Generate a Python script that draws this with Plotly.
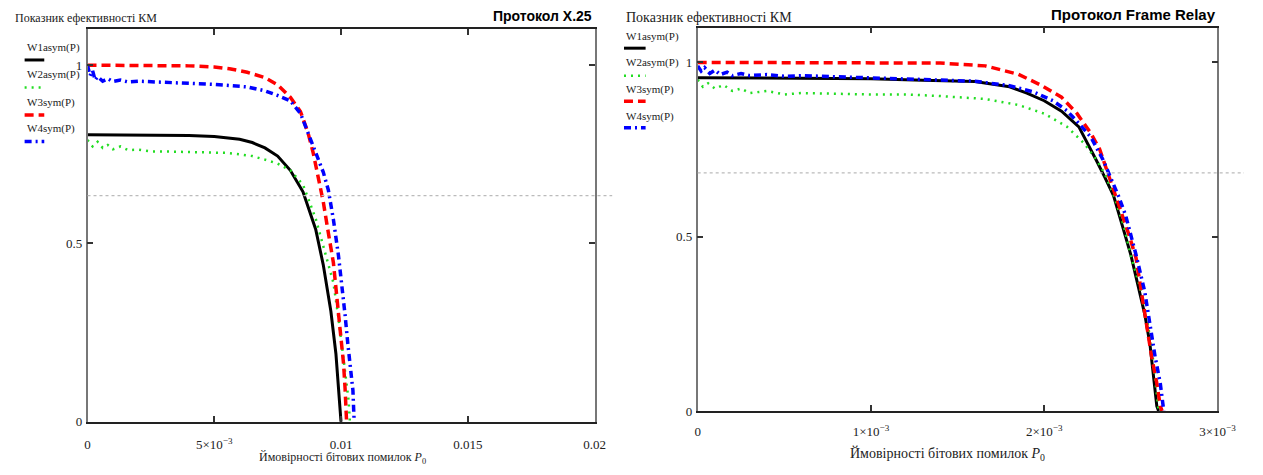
import plotly.graph_objects as go

# ---------------- DATA ----------------
# Protocol X.25 (left panel)
x25_w1_p = [0, 0.001, 0.002, 0.003, 0.004, 0.005, 0.0055, 0.006, 0.0065, 0.007, 0.0075, 0.008, 0.0085,
            0.009, 0.0093, 0.0096, 0.0098, 0.0100]
x25_w1 = [0.805, 0.805, 0.805, 0.804, 0.803, 0.800, 0.797, 0.792, 0.783, 0.768, 0.745, 0.705, 0.645,
          0.54, 0.44, 0.31, 0.19, 0.0]
x25_w2_p = [0, 0.0002, 0.0004, 0.0006, 0.0008, 0.001, 0.0013, 0.0016, 0.002, 0.0025, 0.003, 0.004, 0.005,
            0.0055, 0.006, 0.0065, 0.007, 0.0075, 0.008, 0.0085, 0.009, 0.0094, 0.0097, 0.0099, 0.0101,
            0.0103, 0.01035]
x25_w2 = [0.79, 0.772, 0.785, 0.768, 0.776, 0.764, 0.772, 0.762, 0.763, 0.758, 0.758, 0.757, 0.756,
          0.754, 0.75, 0.745, 0.735, 0.724, 0.705, 0.665, 0.57, 0.47, 0.39, 0.29, 0.17, 0.06, 0.0]
x25_w3_p = [0, 0.001, 0.002, 0.003, 0.004, 0.005, 0.0056, 0.0063, 0.007, 0.0075, 0.008, 0.0084, 0.0087,
            0.0089, 0.0091, 0.0093, 0.0095, 0.0097, 0.0098, 0.0099, 0.0100, 0.0101, 0.01016, 0.0102, 0.01022]
x25_w3 = [1.0, 1.0, 1.0, 0.999, 0.998, 0.995, 0.99, 0.98, 0.965, 0.945, 0.91, 0.87, 0.81,
          0.755, 0.686, 0.617, 0.53, 0.446, 0.375, 0.309, 0.231, 0.163, 0.094, 0.033, 0.0]
x25_w4_p = [0, 0.0001, 0.0002, 0.0003, 0.0004, 0.0006, 0.0008, 0.001, 0.0013, 0.0016, 0.002, 0.003, 0.004,
            0.005, 0.0063, 0.007, 0.0075, 0.008, 0.0084, 0.0086, 0.0088, 0.009, 0.0093, 0.0095, 0.0097,
            0.0099, 0.01004, 0.01016, 0.01027, 0.01039, 0.01047, 0.0105, 0.01052]
x25_w4 = [1.0, 0.97, 0.985, 0.958, 0.968, 0.955, 0.962, 0.954, 0.958, 0.953, 0.955, 0.952, 0.95,
          0.946, 0.939, 0.928, 0.915, 0.90, 0.865, 0.829, 0.795, 0.755, 0.70, 0.65, 0.567,
          0.466, 0.383, 0.30, 0.218, 0.143, 0.088, 0.033, 0.0]

# Protocol Frame Relay (right panel)
fr_w1_p = [0, 0.0005, 0.001, 0.0013, 0.0016, 0.0018, 0.0019, 0.002, 0.0021, 0.0022, 0.00226, 0.0023,
           0.00235, 0.0024, 0.00245, 0.0025, 0.00254, 0.00258, 0.00261, 0.00263, 0.00265, 0.00266]
fr_w1 = [0.956, 0.955, 0.953, 0.949, 0.945, 0.93, 0.912, 0.89, 0.86, 0.815, 0.76, 0.72,
         0.67, 0.618, 0.533, 0.448, 0.363, 0.278, 0.193, 0.108, 0.014, 0.0]
fr_w2_p = [0, 0.00003, 0.00006, 0.0001, 0.00015, 0.0002, 0.00025, 0.0003, 0.0004, 0.0005, 0.0006, 0.0008,
           0.001, 0.0012, 0.00138, 0.00166, 0.00185, 0.002, 0.00213, 0.00223, 0.0023, 0.00235, 0.0024,
           0.00246, 0.0025, 0.00255, 0.00259, 0.00262, 0.00264, 0.00266]
fr_w2 = [0.95, 0.93, 0.94, 0.925, 0.935, 0.918, 0.925, 0.912, 0.918, 0.908, 0.912, 0.909,
         0.908, 0.908, 0.904, 0.895, 0.878, 0.853, 0.816, 0.768, 0.722, 0.68, 0.62,
         0.53, 0.445, 0.36, 0.27, 0.185, 0.10, 0.0]
fr_w3_p = [0, 0.001, 0.0014, 0.00166, 0.00185, 0.00198, 0.0021, 0.00219, 0.00227, 0.00232, 0.00236,
           0.00239, 0.00245, 0.00249, 0.00253, 0.00256, 0.0026, 0.00262, 0.00265, 0.00267, 0.00268]
fr_w3 = [1.0, 1.0, 0.998, 0.99, 0.966, 0.935, 0.90, 0.853, 0.796, 0.751, 0.694,
         0.654, 0.561, 0.504, 0.439, 0.343, 0.229, 0.156, 0.079, 0.014, 0.0]
fr_w4_p = [0, 0.00002, 0.00004, 0.00007, 0.0001, 0.00013, 0.00017, 0.0002, 0.00025, 0.0003, 0.0004,
           0.0005, 0.0006, 0.0008, 0.001, 0.0013, 0.0016, 0.0018, 0.00194, 0.00205, 0.00213, 0.0022,
           0.00227, 0.00234, 0.00238, 0.00243, 0.00247, 0.00253, 0.00258, 0.00261, 0.00264, 0.00267, 0.00269]
fr_w4 = [0.99, 0.975, 0.985, 0.968, 0.978, 0.965, 0.972, 0.962, 0.968, 0.962, 0.965,
         0.96, 0.962, 0.959, 0.957, 0.952, 0.946, 0.933, 0.915, 0.89, 0.862, 0.825,
         0.785, 0.72, 0.675, 0.615, 0.561, 0.448, 0.343, 0.241, 0.156, 0.079, 0.0]

series_names = ["W1asym(P)", "W2asym(P)", "W3sym(P)", "W4sym(P)"]
x25_xticks = [0, 0.005, 0.01, 0.015, 0.02]
x25_xticktext = ["0", "5×10<sup>−3</sup>", "0.01", "0.015", "0.02"]
fr_xticks = [0, 0.001, 0.002, 0.003]
fr_xticktext = ["0", "1×10<sup>−3</sup>", "2×10<sup>−3</sup>", "3×10<sup>−3</sup>"]
yticks = [0, 0.5, 1]
yticktext = ["0", "0.5", "1"]
x25_marker_level = 0.634
fr_marker_level = 0.683
y_title = "Показник ефективності КМ"
x_title = "Ймовірності бітових помилок <i>P</i><sub>0</sub>"
titles = ["Протокол X.25", "Протокол Frame Relay"]

# ---------------- STYLE ----------------
W, H = 1263, 475
SERIF = "Liberation Serif"
SANS = "Liberation Sans"
TXT = "#222222"
styles = [
    dict(color="black", width=3, dash="solid"),
    dict(color="#22dd22", width=2.5, dash="2px,5px"),
    dict(color="#ff0000", width=3.5, dash="9px,5px"),
    dict(color="#0000ff", width=3.5, dash="7px,4px,2px,4px"),
]

def fx(p):
    return p / W

def fy(p):
    return 1 - p / H

fig = go.Figure()
left_data = [(x25_w1_p, x25_w1), (x25_w2_p, x25_w2), (x25_w3_p, x25_w3), (x25_w4_p, x25_w4)]
right_data = [(fr_w1_p, fr_w1), (fr_w2_p, fr_w2), (fr_w3_p, fr_w3), (fr_w4_p, fr_w4)]
for i, (xs, ys) in enumerate(left_data):
    fig.add_trace(go.Scatter(x=xs, y=ys, mode="lines", name=series_names[i], line=styles[i],
                             xaxis="x", yaxis="y", showlegend=False))
for i, (xs, ys) in enumerate(right_data):
    fig.add_trace(go.Scatter(x=xs, y=ys, mode="lines", name=series_names[i], line=styles[i],
                             xaxis="x2", yaxis="y2", showlegend=False))

def axis_common(line_color):
    return dict(
        showgrid=False, zeroline=False, showline=True, linecolor=line_color, linewidth=1.5,
        mirror="ticks", ticks="inside", ticklen=6, tickcolor="#333333", tickwidth=1.5,
        tickfont=dict(family=SERIF, size=13, color=TXT),
    )

fig.update_layout(
    width=W, height=H, margin=dict(l=0, r=0, t=0, b=0),
    paper_bgcolor="white", plot_bgcolor="white",
    xaxis=dict(domain=[fx(86), fx(602)], range=[0, 0.02], tickvals=x25_xticks, ticktext=x25_xticktext,
               anchor="y", ticklabelstandoff=10, **axis_common("#222222")),
    yaxis=dict(domain=[fy(429), fy(30)], range=[0, 1.1], tickvals=yticks, ticktext=yticktext,
               anchor="x", ticklabelstandoff=1, **axis_common("#777777")),
    xaxis2=dict(domain=[fx(707), fx(1236)], range=[0, 0.003], tickvals=fr_xticks, ticktext=fr_xticktext,
                anchor="y2", ticklabelstandoff=8, **axis_common("#222222")),
    yaxis2=dict(domain=[fy(418), fy(28)], range=[0, 1.1], tickvals=yticks, ticktext=yticktext,
                anchor="x2", ticklabelstandoff=1, **axis_common("#777777")),
)

shapes = []
shapes.append(dict(type="line", xref="paper", yref="y", x0=fx(86), x1=fx(620),
                   y0=x25_marker_level, y1=x25_marker_level,
                   line=dict(color="#bbbbbb", width=1.2, dash="3px,3px")))
shapes.append(dict(type="line", xref="paper", yref="y2", x0=fx(707), x1=1.0,
                   y0=fr_marker_level, y1=fr_marker_level,
                   line=dict(color="#bbbbbb", width=1.2, dash="3px,3px")))

annotations = []
leg_left = dict(x=22, text_y=[48, 76, 104, 131], samp_y=[61, 89, 117, 144], samp_w=20)
leg_right = dict(x=632, text_y=[37, 64, 91, 118], samp_y=[49, 77, 103, 130], samp_w=22)
for leg in (leg_left, leg_right):
    for i in range(4):
        annotations.append(dict(xref="paper", yref="paper", x=fx(leg["x"]), y=fy(leg["text_y"][i]),
                                xanchor="left", yanchor="middle", showarrow=False,
                                text=series_names[i], font=dict(family=SERIF, size=11, color=TXT)))
        shapes.append(dict(type="line", xref="paper", yref="paper",
                           x0=fx(leg["x"]), x1=fx(leg["x"] + leg["samp_w"]),
                           y0=fy(leg["samp_y"][i]), y1=fy(leg["samp_y"][i]), line=styles[i]))

annotations.append(dict(xref="paper", yref="paper", x=fx(10), y=fy(18), xanchor="left", yanchor="middle",
                        showarrow=False, text=y_title, font=dict(family=SERIF, size=12, color=TXT)))
annotations.append(dict(xref="paper", yref="paper", x=fx(632), y=fy(18), xanchor="left", yanchor="middle",
                        showarrow=False, text=y_title, font=dict(family=SERIF, size=14, color=TXT)))
annotations.append(dict(xref="paper", yref="paper", x=fx(601), y=fy(16), xanchor="right", yanchor="middle",
                        showarrow=False, text="<b>" + titles[0] + "</b>",
                        font=dict(family=SANS, size=14, color="black")))
annotations.append(dict(xref="paper", yref="paper", x=fx(1237), y=fy(15), xanchor="right", yanchor="middle",
                        showarrow=False, text="<b>" + titles[1] + "</b>",
                        font=dict(family=SANS, size=15, color="black")))
annotations.append(dict(xref="paper", yref="paper", x=fx(346), y=fy(466), xanchor="center", yanchor="middle",
                        showarrow=False, text=x_title, font=dict(family=SERIF, size=12, color=TXT)))
annotations.append(dict(xref="paper", yref="paper", x=fx(961), y=fy(462), xanchor="center", yanchor="middle",
                        showarrow=False, text=x_title, font=dict(family=SERIF, size=14, color=TXT)))
fig.update_layout(shapes=shapes, annotations=annotations)

post = (
    "document.documentElement.style.margin='0';"
    "document.documentElement.style.overflow='hidden';"
    "document.body.style.margin='0';"
    "document.body.style.overflow='hidden';"
)
fig.write_html("out.html", config={"displayModeBar": False}, post_script=post)
